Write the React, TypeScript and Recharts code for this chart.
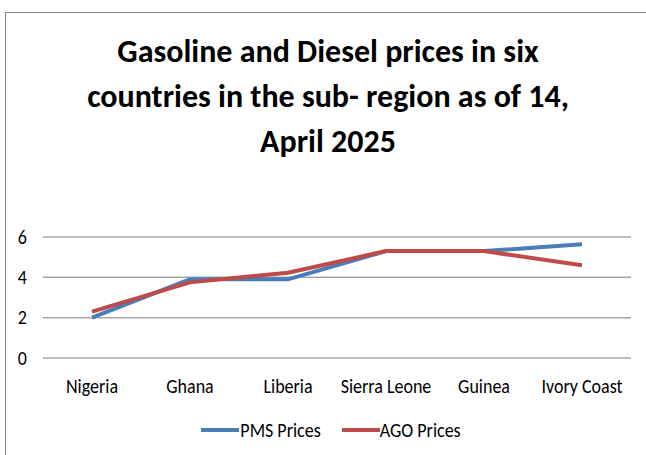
import React from 'react';
import { LineChart, Line, XAxis, YAxis, CartesianGrid, Legend } from 'recharts';

const countries = ['Nigeria', 'Ghana', 'Liberia', 'Sierra Leone', 'Guinea', 'Ivory Coast'];
const pmsPrices = [2.0, 3.9, 3.9, 5.3, 5.3, 5.64];
const agoPrices = [2.3, 3.75, 4.23, 5.3, 5.3, 4.6];
const yTicks = [0, 2, 4, 6];
const titleLines = ['Gasoline and Diesel prices in six', 'countries in the sub- region as of 14,', 'April 2025'];

const data = countries.map((c, i) => ({ country: c, pms: pmsPrices[i], ago: agoPrices[i] }));

const FONT = "Carlito, Lato, 'Liberation Sans', sans-serif";
const BLUE = '#4A7EBB';
const RED = '#BE4B48';
const STRETCH = 1.17;

const XTick = (props: any) => {
  const { x, y, payload } = props;
  return (
    <g transform={`translate(${x},${y})`}>
      <text transform={`scale(1,${STRETCH})`} textAnchor="middle" dy="0.71em" fontFamily={FONT} fontSize={18} fill="#000">
        {payload.value}
      </text>
    </g>
  );
};

const YTick = (props: any) => {
  const { x, y, payload } = props;
  return (
    <g transform={`translate(${x},${y})`}>
      <text transform={`scale(1,${STRETCH})`} textAnchor="end" dy="0.32em" fontFamily={FONT} fontSize={18} fill="#000">
        {payload.value}
      </text>
    </g>
  );
};

const LegendContent = () => (
  <div style={{ display: 'flex', justifyContent: 'center', alignItems: 'center', height: 20, width: '100%', boxSizing: 'border-box', fontFamily: FONT, fontSize: 18, color: '#000', paddingLeft: 31 }}>
    <svg width={38} height={6} style={{ marginRight: 1 }}><line x1={0} y1={3} x2={38} y2={3} stroke={BLUE} strokeWidth={4} /></svg>
    <span style={{ marginRight: 21, display: 'inline-block', transform: `scaleY(${STRETCH})` }}>PMS Prices</span>
    <svg width={38} height={6} style={{ marginRight: 0 }}><line x1={0} y1={3} x2={38} y2={3} stroke={RED} strokeWidth={4} /></svg>
    <span style={{ display: 'inline-block', transform: `scaleY(${STRETCH})` }}>AGO Prices</span>
  </div>
);

export default function App() {
  return (
    <div style={{ position: 'absolute', left: 0, top: 0, width: 646, height: 455, overflow: 'hidden', background: '#fff' }}>
      <div style={{ position: 'absolute', left: 5, top: 12, width: 660, height: 470, border: '1px solid #868686' }} />
      <svg style={{ position: 'absolute', left: 0, top: 0 }} width={646} height={170}>
        {titleLines.map((t, i) => (
          <text key={i} x={328} y={62 + i * 45} textAnchor="middle" fontFamily={FONT} fontWeight="bold" fontSize={32} fill="#000">{t}</text>
        ))}
      </svg>
      <div style={{ position: 'absolute', left: 0, top: 0 }}>
        <LineChart width={646} height={455} data={data} margin={{ top: 237, right: 15, bottom: 15, left: 0 }}>
          <CartesianGrid horizontal vertical={false} stroke="#A6A6A6" strokeWidth={1.5} />
          <XAxis dataKey="country" axisLine={false} tickLine={false} interval={0} height={62} tickMargin={14}
            padding={{ left: 49, right: 49 }} tick={<XTick />} />
          <YAxis domain={[0, 6]} ticks={yTicks} axisLine={false} tickLine={false} width={43} tickMargin={10}
            tick={<YTick />} />
          <Legend verticalAlign="bottom" height={20} content={<LegendContent />} />
          <Line type="linear" dataKey="pms" name="PMS Prices" stroke={BLUE} strokeWidth={4} dot={false} isAnimationActive={false} />
          <Line type="linear" dataKey="ago" name="AGO Prices" stroke={RED} strokeWidth={4} dot={false} isAnimationActive={false} />
        </LineChart>
      </div>
    </div>
  );
}
